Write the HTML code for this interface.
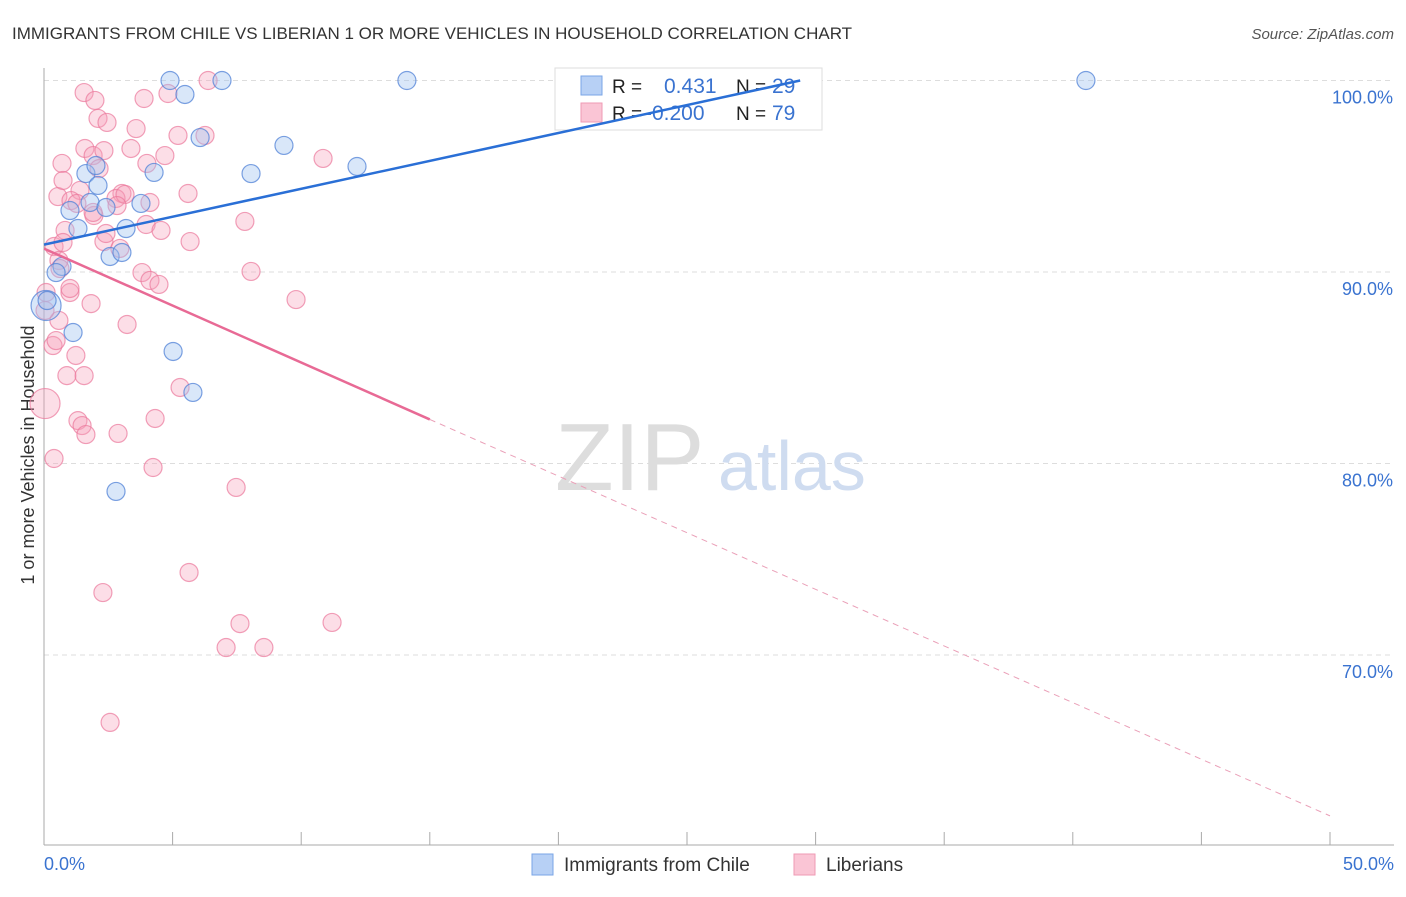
<!DOCTYPE html>
<html><head><meta charset="utf-8"><style>
body{margin:0;background:#fff;font-family:"Liberation Sans",sans-serif}
svg text{font-family:"Liberation Sans",sans-serif}
</style></head><body>
<svg id="c" width="1406" height="892">
<text x="12" y="39" font-size="17" fill="#333">IMMIGRANTS FROM CHILE VS LIBERIAN 1 OR MORE VEHICLES IN HOUSEHOLD CORRELATION CHART</text>
<text x="1394" y="39" font-size="15" fill="#555" font-style="italic" text-anchor="end">Source: ZipAtlas.com</text>
<text transform="translate(34,455) rotate(-90)" font-size="18" fill="#333" text-anchor="middle">1 or more Vehicles in Household</text>
<g id="grid"></g>
<text x="555" y="490" font-size="96" fill="#ddd" font-family="Liberation Serif">ZIP</text>
<text x="718" y="490" font-size="70" fill="#cfdcf0">atlas</text>
<g id="pts"></g>
<g>
<rect x="555" y="68" width="267" height="62" fill="#fff" stroke="#ddd"/>
<rect x="581" y="76" width="21" height="19" fill="#b7d0f5" stroke="#7aa5e6"/>
<rect x="581" y="103" width="21" height="19" fill="#fac5d5" stroke="#ef9ab4"/>
<text x="612" y="93" font-size="19" fill="#222">R = </text><text x="664" y="93" font-size="21" fill="#3a73d0">0.431</text>
<text x="736" y="93" font-size="19" fill="#222">N = </text><text x="772" y="93" font-size="21" fill="#3a73d0">29</text>
<text x="612" y="120" font-size="19" fill="#222">R = </text><text x="645" y="120" font-size="21" fill="#3a73d0">-0.200</text>
<text x="736" y="120" font-size="19" fill="#222">N = </text><text x="772" y="120" font-size="21" fill="#3a73d0">79</text>
</g>
<g id="lines"></g>
<g>
<rect x="532" y="854" width="21" height="21" fill="#b7d0f5" stroke="#7aa5e6"/>
<text x="564" y="871" font-size="19" fill="#333">Immigrants from Chile</text>
<rect x="794" y="854" width="21" height="21" fill="#fac5d5" stroke="#ef9ab4"/>
<text x="826" y="871" font-size="19" fill="#333">Liberians</text>
</g>
<text x="44" y="870" font-size="18" fill="#3a73d0">0.0%</text>
<text x="1394" y="870" font-size="18" fill="#3a73d0" text-anchor="end">50.0%</text>
</svg>
<script>
const yTicks=[100,90,80,70];
const yTickLabels=["100.0%","90.0%","80.0%","70.0%"];
const chileX=[4.9,6.92,14.11,40.51,5.48,6.07,9.33,12.17,4.28,8.05,1.63,2.02,2.10,1.01,1.79,2.41,3.77,3.19,1.32,2.57,3.03,0.70,0.47,0.08,1.13,5.02,5.79,2.80,0.12];
const chileY=[100,100,100,100,99.27,97.02,96.61,95.51,95.20,95.14,95.14,95.56,94.52,93.21,93.63,93.37,93.58,92.27,92.27,90.81,91.02,90.29,89.97,88.25,86.84,85.85,83.71,78.54,88.51];
const libX=[1.56,1.98,2.10,2.45,3.89,4.82,6.38,5.21,6.26,3.58,0.70,1.59,1.91,2.33,2.14,3.38,4.70,4.00,3.03,2.80,4.12,5.60,7.81,10.85,1.40,0.54,1.05,1.28,1.94,3.97,4.55,5.68,2.33,2.95,0.82,0.39,0.74,2.41,3.81,4.12,4.47,8.05,9.80,0.58,0.62,1.01,1.01,1.83,3.23,0.08,0.58,0.35,0.47,1.24,0.89,1.56,5.29,1.32,1.48,1.63,4.32,2.88,0.39,4.24,7.47,5.64,2.29,7.62,11.20,7.08,8.55,2.57,0.04,0.74,3.15,1.91,2.84,0.04];
const libY=[99.37,98.96,98.02,97.81,99.06,99.32,100,97.13,97.13,97.49,95.67,96.45,96.08,96.34,95.40,96.45,96.08,95.67,94.10,93.84,93.63,94.10,92.64,95.93,94.26,93.94,93.73,93.58,92.95,92.48,92.17,91.59,91.59,91.23,92.17,91.33,91.54,92.01,89.97,89.56,89.35,90.03,88.56,90.60,90.18,88.93,89.14,88.35,87.26,88.93,87.47,86.16,86.42,85.64,84.59,84.59,83.97,82.24,81.98,81.51,82.35,81.57,80.26,79.79,78.75,74.31,73.26,71.64,71.70,70.39,70.39,66.48,83.13,94.78,94.05,93.11,93.47,87.99];
const chileTrend=[[0,91.43],[29.4,100]];
const libTrend=[[0,91.22],[15,82.3],[50,61.6]];
const NS="http://www.w3.org/2000/svg";
const sx=v=>44+v/50*1286, sy=v=>80.5+(100-v)*19.15;
function mk(t,a,p){const e=document.createElementNS(NS,t);for(const k in a)e.setAttribute(k,a[k]);p.appendChild(e);return e;}
const g=document.getElementById('grid');
yTicks.forEach((t,i)=>{
 const l=mk('line',{x1:44,x2:1394,y1:sy(t),y2:sy(t),stroke:'#ddd','stroke-dasharray':'5,4'},g);
 
 
 const tx=mk('text',{x:1393,y:sy(t)+23,'font-size':18,fill:'#3a73d0','text-anchor':'end'},g);tx.textContent=yTickLabels[i];
 
 
});
mk('line',{x1:44,x2:44,y1:68,y2:845,stroke:'#aaa'},g);
mk('line',{x1:44,x2:1394,y1:845,y2:845,stroke:'#aaa'},g);
for(let i=0;i<=10;i++){const t=mk('line',{x1:sx(i*5),x2:sx(i*5),y1:832,y2:845,stroke:'#aaa'},g);
 
 }
const P=document.getElementById('pts');
libX.forEach((x,i)=>{const r=(i==72)?15:9;
 const c=mk('circle',{cx:sx(x),cy:sy(libY[i]),r:r,fill:'rgba(245,160,185,0.35)',stroke:'rgba(235,120,155,0.7)','stroke-width':1.2},P);
 
 });
chileX.forEach((x,i)=>{const r=(i==23)?15:9;
 const c=mk('circle',{cx:sx(x),cy:sy(chileY[i]),r:r,fill:'rgba(160,195,240,0.4)',stroke:'rgba(80,130,215,0.75)','stroke-width':1.2},P);
 
 });
const L=document.getElementById('lines');
let a=mk('line',{x1:sx(chileTrend[0][0]),y1:sy(chileTrend[0][1]),x2:sx(chileTrend[1][0]),y2:sy(chileTrend[1][1]),stroke:'#2a6fd6','stroke-width':2.5},L);


let b=mk('line',{x1:sx(libTrend[0][0]),y1:sy(libTrend[0][1]),x2:sx(libTrend[1][0]),y2:sy(libTrend[1][1]),stroke:'#e86a95','stroke-width':2.5},L);


let d=mk('line',{x1:sx(libTrend[1][0]),y1:sy(libTrend[1][1]),x2:sx(libTrend[2][0]),y2:sy(libTrend[2][1]),stroke:'#eaa0b8','stroke-width':1,'stroke-dasharray':'6,5'},L);


</script>
</body></html>
